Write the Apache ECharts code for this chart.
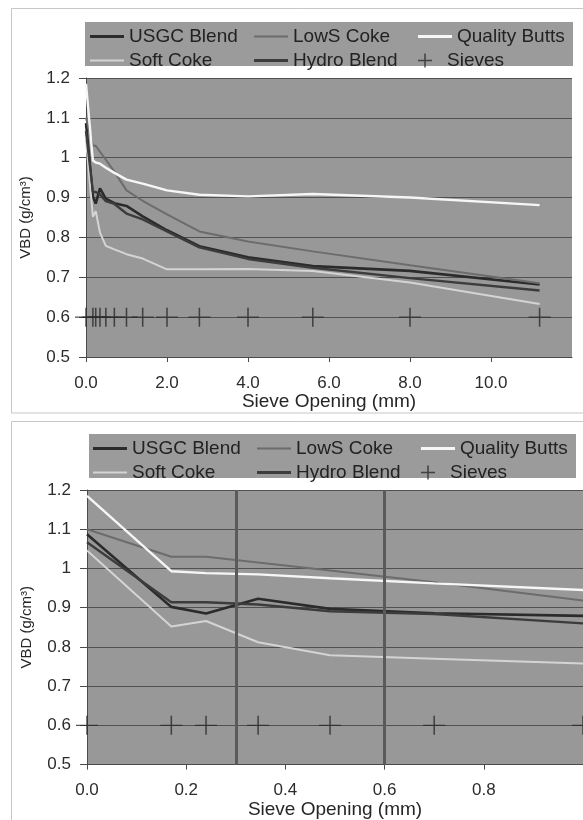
<!DOCTYPE html>
<html><head><meta charset="utf-8">
<script src="https://cdn.jsdelivr.net/npm/echarts@6/dist/echarts.min.js"></script>
<style>html,body{margin:0;padding:0;background:#fff}#c{width:583px;height:820px}</style>
</head><body><div id="c"></div>
<script>
// ---- data ----
const seriesNames = ['USGC Blend', 'LowS Coke', 'Quality Butts', 'Soft Coke', 'Hydro Blend', 'Sieves'];
const sieveOpening = [0, 0.17, 0.24, 0.345, 0.49, 0.70, 1.0, 1.4, 2.0, 2.8, 4.0, 5.6, 8.0, 11.2];
const usgcBlend    = [1.087, 0.902, 0.885, 0.923, 0.897, 0.886, 0.879, 0.853, 0.818, 0.778, 0.750, 0.728, 0.716, 0.682];
const lowsCoke     = [1.100, 1.030, 1.030, 1.015, 0.995, 0.965, 0.918, 0.892, 0.858, 0.815, 0.790, 0.765, 0.730, 0.685];
const qualityButts = [1.185, 0.993, 0.988, 0.985, 0.975, 0.962, 0.945, 0.935, 0.918, 0.907, 0.903, 0.909, 0.900, 0.881];
const softCoke     = [1.046, 0.852, 0.866, 0.812, 0.779, 0.770, 0.758, 0.747, 0.720, 0.720, 0.721, 0.716, 0.687, 0.633];
const hydroBlend   = [1.067, 0.914, 0.914, 0.908, 0.891, 0.884, 0.860, 0.845, 0.815, 0.775, 0.746, 0.724, 0.698, 0.667];
const sieveLevel   = [0.6, 0.6, 0.6, 0.6, 0.6, 0.6, 0.6, 0.6, 0.6, 0.6, 0.6, 0.6, 0.6, 0.6];
const yTicks = [0.5, 0.6, 0.7, 0.8, 0.9, 1.0, 1.1, 1.2];
const xTicksTop = [0, 2, 4, 6, 8, 10, 12];
const xTicksBottom = [0, 0.2, 0.4, 0.6, 0.8, 1.0];
const markerLinesBottom = [0.3, 0.6];

// ---- styles ----
const FONT = 'Liberation Sans';
const lineStyles = {
  'USGC Blend':    {color: '#2b2b2b', width: 2.6},
  'LowS Coke':     {color: '#6c6c6c', width: 2},
  'Quality Butts': {color: '#f6f6f6', width: 2.4},
  'Soft Coke':     {color: '#d4d4d4', width: 2},
  'Hydro Blend':   {color: '#3c3c3c', width: 2.4}
};
const lineValues = {
  'USGC Blend': usgcBlend, 'LowS Coke': lowsCoke, 'Quality Butts': qualityButts,
  'Soft Coke': softCoke, 'Hydro Blend': hydroBlend
};
const plusSymbol = 'path://M0,9.3h20v1.4h-20z M9.3,0h1.4v20h-1.4z';
const plusLegend = 'path://M0,8.9h20v2.2h-20z M8.9,0h2.2v20h-2.2z';
const barIcon = w => 'path://M0,0h34v' + w + 'h-34z';

function buildSeries(gi) {
  const out = [];
  seriesNames.slice(0, 5).forEach(name => {
    const st = lineStyles[name];
    out.push({
      name, type: 'line', xAxisIndex: gi, yAxisIndex: gi,
      data: sieveOpening.map((x, i) => [x, lineValues[name][i]]),
      symbol: 'none', showSymbol: false,
      lineStyle: {color: st.color, width: st.width},
      itemStyle: {color: st.color},
      z: 3
    });
  });
  const sv = {
    name: 'Sieves', type: 'scatter', xAxisIndex: gi, yAxisIndex: gi,
    data: sieveOpening.map((x, i) => [x, sieveLevel[i]]),
    symbol: plusSymbol, symbolSize: [22, 19],
    itemStyle: {color: '#2a2a2a'}, z: 4
  };
  if (gi === 1) {
    sv.markLine = {
      silent: true, symbol: 'none', label: {show: false},
      lineStyle: {color: '#5a5a5a', width: 3, type: 'solid'},
      data: markerLinesBottom.map(v => ({xAxis: v}))
    };
  }
  out.push(sv);
  return out;
}

function xAxis(gi, ticks) {
  const step = +(ticks[1] - ticks[0]).toFixed(3);
  return {
    type: 'value', gridIndex: gi,
    min: ticks[0], max: ticks[ticks.length - 1], interval: step,
    name: 'Sieve Opening (mm)', nameLocation: 'middle', nameGap: gi === 0 ? 34 : 33,
    nameTextStyle: {fontFamily: FONT, fontSize: 19, color: '#262626'},
    axisLine: {show: true, lineStyle: {color: '#4a4a4a', width: 1}},
    axisTick: {show: true, length: 5, lineStyle: {color: '#4a4a4a'}},
    axisLabel: {
      fontFamily: FONT, fontSize: 17, color: '#2c2c2c', margin: 17.5,
      showMaxLabel: false,
      formatter: v => v.toFixed(1)
    },
    splitLine: {show: false}
  };
}
function yAxis(gi) {
  return {
    type: 'value', gridIndex: gi,
    min: yTicks[0], max: yTicks[yTicks.length - 1], interval: 0.1,
    name: 'VBD (g/cm³)', nameLocation: 'middle', nameGap: 53,
    nameTextStyle: {fontFamily: FONT, fontSize: 15, color: '#262626'},
    axisLine: {show: true, lineStyle: {color: '#4a4a4a', width: 1}},
    axisTick: {show: true, length: 7, lineStyle: {color: '#4a4a4a'}},
    axisLabel: {
      fontFamily: FONT, fontSize: 17, color: '#2c2c2c', margin: 16,
      formatter: v => String(+(+v).toFixed(1))
    },
    splitLine: {show: true, lineStyle: {color: '#515151', width: 1}}
  };
}
function legend(left, top) {
  return {
    left, top, padding: 0, orient: 'horizontal', width: 490,
    itemWidth: 34, itemHeight: 14, itemGap: 5,
    textStyle: {fontFamily: FONT, fontSize: 19, color: '#222', width: 120, lineHeight: 16},
    data: seriesNames.map(n => n === 'Sieves'
      ? {name: n, icon: plusLegend, itemStyle: {color: '#2a2a2a'}}
      : {name: n, icon: barIcon(lineStyles[n].width > 2.2 ? 3 : 2.2), itemStyle: {color: lineStyles[n].color}})
  };
}

const chart = echarts.init(document.getElementById('c'), null, {renderer: 'canvas'});
chart.setOption({
  animation: false,
  backgroundColor: '#ffffff',
  textStyle: {fontFamily: FONT},
  graphic: [
    {type: 'rect', shape: {x: 11.5, y: 8.5, width: 620, height: 404.5}, style: {fill: 'none', stroke: '#c6c6c6', lineWidth: 1}, z: -10},
    {type: 'rect', shape: {x: 11.5, y: 421.5, width: 620, height: 500}, style: {fill: 'none', stroke: '#c6c6c6', lineWidth: 1}, z: -10},
    {type: 'rect', shape: {x: 85, y: 22, width: 488, height: 44}, style: {fill: '#9b9b9b'}, z: -5},
    {type: 'rect', shape: {x: 89, y: 434, width: 487, height: 44}, style: {fill: '#9b9b9b'}, z: -5}
  ],
  grid: [
    {left: 86, top: 78, width: 486, height: 279, show: true, backgroundColor: '#989898', borderWidth: 0},
    {left: 87, top: 490, width: 498, height: 280, show: true, backgroundColor: '#989898', borderWidth: 0}
  ],
  legend: [legend(90, 27), legend(93, 439)],
  xAxis: [xAxis(0, xTicksTop), xAxis(1, xTicksBottom)],
  yAxis: [yAxis(0), yAxis(1)],
  series: buildSeries(0).concat(buildSeries(1))
});
</script>
</body></html>
